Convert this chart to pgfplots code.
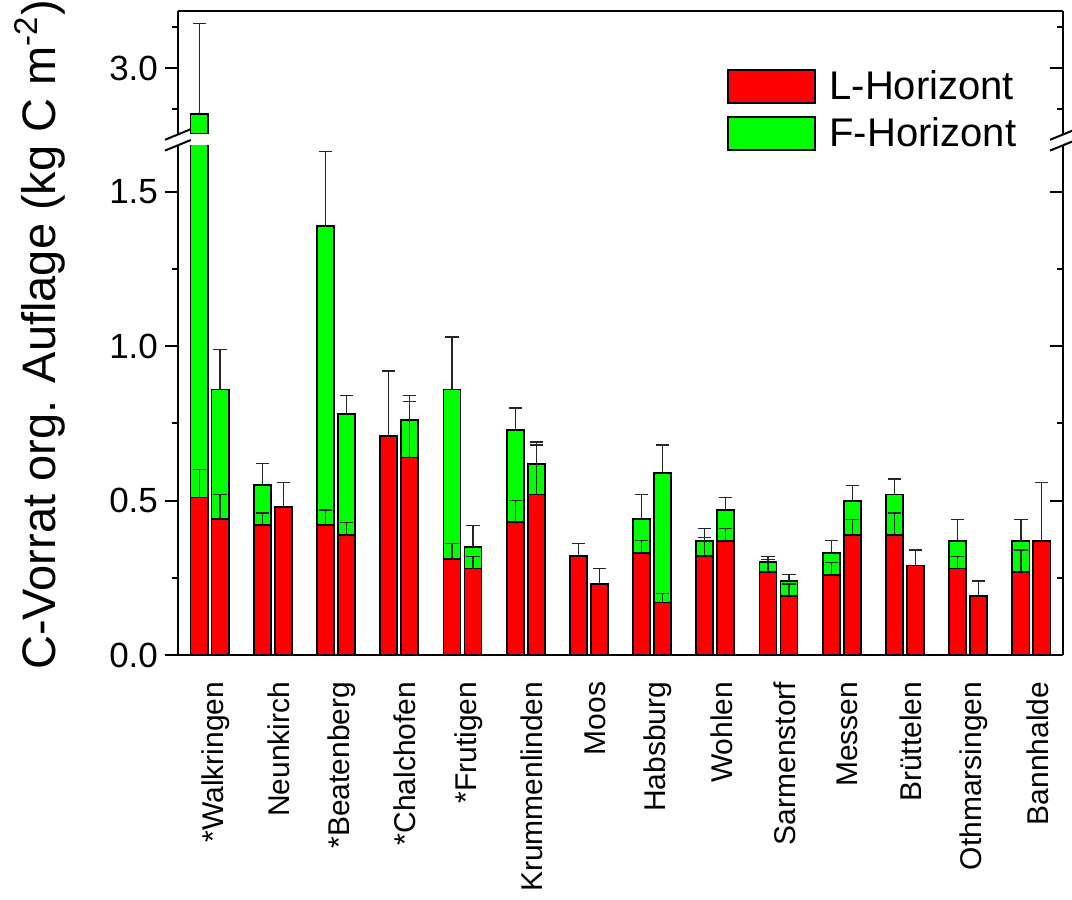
\documentclass[border=0pt]{standalone}
\usepackage{fontspec}
\setmainfont{Liberation Sans}
\usepackage{pgfplots}
\pgfplotsset{compat=1.18}
\usepackage{pgfplotstable}

\definecolor{lred}{RGB}{255,0,0}
\definecolor{fgreen}{RGB}{0,255,0}

% x: site index shifted for the two profiles of a site
% L, Le: L-Horizont and its error; F: F-Horizont layer on top, Fe: error of the total
\pgfplotstableread{
x       L     Le    F     Fe
-0.166  0.51  0.09  2.21  0.55
0.166   0.44  0.08  0.42  0.13
0.834   0.42  0.04  0.13  0.07
1.166   0.48  0.08  nan   nan
1.834   0.42  0.05  0.97  0.24
2.166   0.39  0.04  0.39  0.06
2.834   0.71  0.21  nan   nan
3.166   0.64  0.18  0.12  0.08
3.834   0.31  0.05  0.55  0.17
4.166   0.28  0.04  0.07  0.07
4.834   0.43  0.07  0.30  0.07
5.166   0.52  0.16  0.10  0.07
5.834   0.32  0.04  nan   nan
6.166   0.23  0.05  nan   nan
6.834   0.33  0.04  0.11  0.08
7.166   0.17  0.03  0.42  0.09
7.834   0.32  0.06  0.05  0.04
8.166   0.37  0.04  0.10  0.04
8.834   0.27  0.04  0.03  0.02
9.166   0.19  0.04  0.05  0.02
9.834   0.26  0.04  0.07  0.04
10.166  0.39  0.05  0.11  0.05
10.834  0.39  0.07  0.13  0.05
11.166  0.29  0.05  nan   nan
11.834  0.28  0.04  0.09  0.07
12.166  0.19  0.05  nan   nan
12.834  0.27  0.07  0.10  0.07
13.166  0.37  0.19  nan   nan
}\datatable

\pgfplotsset{
  base/.style={
    scale only axis, width=442.5pt,
    xmin=-0.5, xmax=13.5,
    axis line style={black, line width=1pt},
    major tick length=6.5pt, minor tick length=3pt,
    every tick/.style={black, line width=1pt},
    /pgf/number format/assume math mode=true,
  },
  ovl/.style={
    base, xtick=\empty,
    minor xtick={1.1667,2.8333,4.5,6.1667,7.8333,9.5,11.1667,12.8333},
    yticklabels={}, tick align=inside,
  },
  barL/.style={ybar, bar width=0.27, bar shift=0pt, fill=lred, draw=black, line width=0.9pt},
  barF/.style={ybar, bar width=0.27, bar shift=0pt, fill=fgreen, draw=black, line width=0.9pt},
  errb/.style={draw=none, mark=none,
    error bars/.cd, y dir=plus, y explicit,
    error bar style={draw=black!85, line width=0.6pt},
    error mark options={draw=black!85, line width=0.6pt, mark size=3.3pt, rotate=90}},
  yfmt/.style={yticklabel style={font=\fontsize{17.5}{21}\selectfont,
    /pgf/number format/fixed, /pgf/number format/fixed zerofill,
    /pgf/number format/precision=1}},
}

% bars of both horizons and their error bars; #1 restricts the shown range
\newcommand{\drawbars}[1]{%
  \addplot[#1,barF] table[x=x, y expr=\thisrow{L}+\thisrow{F}] {\datatable};
  \addplot[#1,barL] table[x=x, y=L] {\datatable};
  \addplot[#1,errb] table[x=x, y=L, y error=Le] {\datatable};
  \addplot[#1,errb] table[x=x, y expr=\thisrow{L}+\thisrow{F}, y error=Fe] {\datatable};
}

\begin{document}
\begin{tikzpicture}
% lower part of the broken axis
\begin{axis}[base, yfmt,
  at={(0,0)}, anchor=south west, height=254.5pt,
  ymin=0, ymax=1.6489,
  axis x line*=bottom, axis y line*=left,
  tick align=outside,
  xtick={0,...,13}, xtick style={draw=none},
  xticklabels={*Walkringen,Neunkirch,*Beatenberg,*Chalchofen,*Frutigen,Krummenlinden,Moos,Habsburg,Wohlen,Sarmenstorf,Messen,Brüttelen,Othmarsingen,Bannhalde},
  xticklabel shift=3.3pt,
  x tick label style={font=\fontsize{15}{18}\selectfont, xshift=3pt, rotate=90, anchor=east},
  ytick={0,0.5,1,1.5}, minor ytick={0.25,0.75,1.25},
]
\drawbars{}
\end{axis}
\begin{axis}[ovl, at={(0,0)}, anchor=south west, height=254.5pt,
  ymin=0, ymax=1.6489,
  axis x line*=bottom, axis y line*=right,
  ytick={0,0.5,1,1.5}, minor ytick={0.25,0.75,1.25}]
\end{axis}
% upper part of the broken axis
\begin{axis}[base, yfmt,
  at={(0,260.5pt)}, anchor=south west, height=61.5pt,
  ymin=2.5976, ymax=3.3476,
  axis x line*=top, axis y line*=left,
  tick align=outside, xtick=\empty,
  ytick={3}, minor ytick={2.75,3.25},
  legend cell align=left,
  legend style={at={(0.62,0.528)}, anchor=north west, draw=none, fill=none,
    font=\fontsize{20}{24}\selectfont, inner sep=0pt, row sep=6pt, column sep=6.8pt,
    nodes={inner sep=0pt}},
  legend image code/.code={\draw[#1] (0pt,-8.25pt) rectangle (43.5pt,8.25pt);},
]
\addlegendimage{fill=lred, draw=black, line width=0.9pt}
\addlegendentry{L-Horizont}
\addlegendimage{fill=fgreen, draw=black, line width=0.9pt}
\addlegendentry{F-Horizont}
\drawbars{restrict y to domain=2.6:10}
\end{axis}
\begin{axis}[ovl, at={(0,260.5pt)}, anchor=south west, height=61.5pt,
  ymin=2.5976, ymax=3.3476,
  axis x line*=top, axis y line*=right,
  ytick={3}, minor ytick={2.75,3.25}]
\end{axis}
% break marks
\begin{scope}[line width=1pt]
  \draw (-6.5pt,252.2pt) -- (6.4pt,257.5pt);
  \draw (-6.5pt,257.6pt) -- (6.4pt,262.9pt);
  \draw (436pt,252.2pt) -- (449pt,257.5pt);
  \draw (436pt,257.6pt) -- (449pt,262.9pt);
\end{scope}
\node[rotate=90, font=\fontsize{23.5}{28}\selectfont] at (-69pt,160pt)
  {C-Vorrat org. Auflage (kg C m\textsuperscript{-2})};
\pgfresetboundingbox
\useasboundingbox (-89pt,-122.5pt) rectangle (447pt,327.5pt);
\end{tikzpicture}
\end{document}
